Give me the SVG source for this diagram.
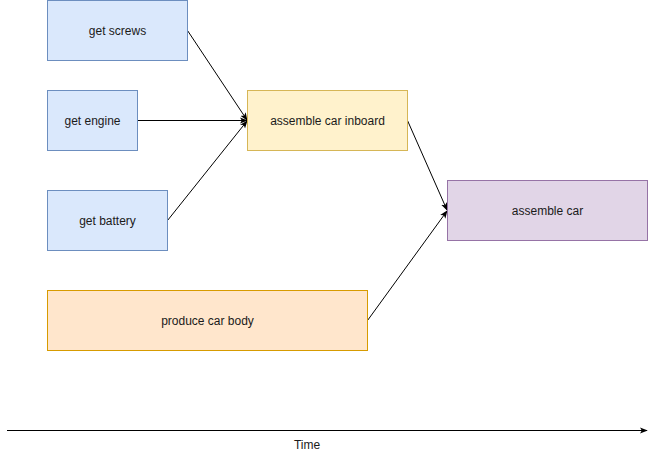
<svg xmlns="http://www.w3.org/2000/svg" width="656" height="456" viewBox="0 0 656 456">
<style>
text{font-family:"Liberation Sans",Arial,sans-serif;font-size:12px;fill:#1a1a1a;text-anchor:middle;dominant-baseline:central}
.blue{fill:#dae8fc;stroke:#6c8ebf}
.yellow{fill:#fff2cc;stroke:#d6b656}
.purple{fill:#e1d5e7;stroke:#9673a6}
.orange{fill:#ffe6cc;stroke:#d79b00}
.edge{fill:none;stroke:#000;stroke-width:1;marker-end:url(#arrow)}
</style>
<defs>
<marker id="arrow" viewBox="0 0 10 10" refX="9" refY="5" markerWidth="8" markerHeight="8" orient="auto" markerUnits="userSpaceOnUse">
<path d="M0,1 L10,5 L0,9 L2.5,5 Z" fill="#000"/>
</marker>
</defs>
<rect width="656" height="456" fill="#fff"/>
<g id="connectors">
<line class="edge" x1="187.5" y1="30.5" x2="247" y2="120"/>
<line class="edge" x1="137.5" y1="120.5" x2="247" y2="120.5"/>
<line class="edge" x1="167.5" y1="220.5" x2="247" y2="121"/>
<line class="edge" x1="407.5" y1="120.5" x2="447" y2="210"/>
<line class="edge" x1="367.5" y1="320.5" x2="447" y2="211"/>
<line class="edge" x1="7" y1="430.5" x2="647" y2="430.5"/>
</g>
<g id="get-screws"><rect class="blue" x="47.5" y="0.5" width="140" height="60"/><text x="117.5" y="30.5">get screws</text></g>
<g id="get-engine"><rect class="blue" x="47.5" y="90.5" width="90" height="60"/><text x="92.5" y="120.5">get engine</text></g>
<g id="get-battery"><rect class="blue" x="47.5" y="190.5" width="120" height="60"/><text x="107.5" y="220.5">get battery</text></g>
<g id="assemble-car-inboard"><rect class="yellow" x="247.5" y="90.5" width="160" height="60"/><text x="327.5" y="120.5">assemble car inboard</text></g>
<g id="assemble-car"><rect class="purple" x="447.5" y="180.5" width="200" height="60"/><text x="547.5" y="210.5">assemble car</text></g>
<g id="produce-car-body"><rect class="orange" x="47.5" y="290.5" width="320" height="60"/><text x="207.5" y="320.5">produce car body</text></g>
<g id="time-label"><text x="307" y="445">Time</text></g>
</svg>
